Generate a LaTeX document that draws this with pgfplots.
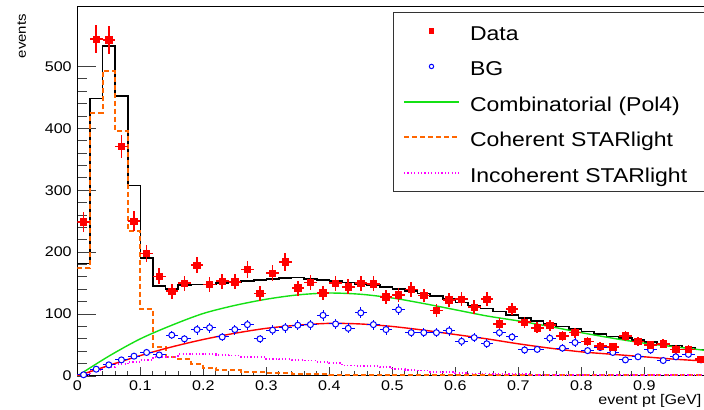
\documentclass[border=0pt]{standalone}
\usepackage{fontspec}
\setmainfont{Liberation Sans}[FakeStretch=1.15]
\usepackage{pgfplots}
\pgfplotsset{compat=1.18}
\definecolor{rgreen}{RGB}{20,225,20}
\definecolor{rorange}{RGB}{255,102,0}
\definecolor{rmagenta}{RGB}{255,0,255}
\pgfplotsset{
  lineleg/.style={legend image code/.code={\draw[##1] (0pt,0pt) -- (27.5pt,0pt); \path[draw=none, fill=none] (0pt,0pt) -- (33pt,0pt);}},
  markleg/.style={legend image code/.code={\draw[##1] plot coordinates {(13.75pt,0pt)}; \path[draw=none, fill=none] (0pt,0pt) -- (33pt,0pt);}},
}
\begin{document}
\begin{tikzpicture}
\useasboundingbox (-38.65pt,-17pt) rectangle (313.35pt,188pt);
\clip (-38.65pt,-17pt) rectangle (313.35pt,188pt);
\begin{axis}[
  at={(0,0)}, anchor=south west,
  scale only axis, width=315pt, height=184.5pt,
  xmin=0, xmax=1, ymin=0, ymax=596,
  axis line style={black, line width=0.5pt},
  tick pos=left, tick align=inside,
  major tick length=9.3pt, minor tick length=4.6pt,
  xtick style={/pgfplots/major tick length=4.5pt, /pgfplots/minor tick length=2.5pt},
  tick style={black!75, line width=0.45pt},
  xtick={0,0.1,0.2,0.3,0.4,0.5,0.6,0.7,0.8,0.9},
  ytick={0,100,200,300,400,500},
  minor x tick num=4, minor y tick num=4,
  /pgf/number format/.cd, fixed, precision=2, assume math mode=true, /pgfplots/.cd,
  ticklabel style={font=\fontsize{7}{8}\selectfont},
  xticklabel style={anchor=base, inner sep=0pt, yshift=-7.3pt},
  yticklabel style={anchor=east, inner sep=0pt, xshift=-2.6pt},
  every axis x label/.style={at={(axis description cs:1,0)}, anchor=base east, yshift=-14.5pt, xshift=0.5pt, font=\fontsize{7}{8}\selectfont},
  every axis y label/.style={at={(axis description cs:-0.088,1)}, rotate=90, anchor=east, font=\fontsize{6.5}{7.5}\selectfont},
  xlabel={event pt [GeV]},
  ylabel={events},
  legend cell align=left,
  lineleg,
  legend style={at={(0.5011,0.9864)}, anchor=north west, draw=black!80, line width=0.5pt, fill=white,
    inner xsep=5pt, inner ysep=0.6pt, outer sep=0pt, row sep=0pt,
    font=\fontsize{10}{11}\selectfont,
    nodes={inner sep=0pt, text height=9.5pt, text depth=0pt, minimum height=17.75pt, text width=112pt, align=left}},
]
% total fit histogram
\addplot[const plot, black, line width=0.8pt, forget plot] table {
0.00 182
0.02 448
0.04 533
0.06 452
0.08 308
0.10 191
0.12 145
0.14 141
0.16 147
0.18 148
0.20 148
0.22 150
0.24 151
0.26 153
0.28 155
0.30 157
0.32 158
0.34 159
0.36 157
0.38 155
0.40 153
0.42 151
0.44 149
0.46 147
0.48 144
0.50 141
0.52 137
0.54 133
0.56 129
0.58 124
0.60 119
0.62 114
0.64 109
0.66 104
0.68 99
0.70 94
0.72 89
0.74 84
0.76 80
0.78 76
0.80 72
0.82 68
0.84 64
0.86 61
0.88 58
0.90 55
0.92 52
0.94 49
0.96 46
0.98 43
1.00 43
};
% coherent
\addplot[const plot, rorange, line width=1pt, dash pattern=on 2.5pt off 1.5pt, forget plot] table {
0.00 174
0.02 425
0.04 492
0.06 396
0.08 235
0.10 108
0.12 47
0.14 31
0.16 27
0.18 20
0.20 13
0.22 10
0.24 10
0.26 7
0.28 7
0.30 5
0.32 5
0.34 4
0.36 3
0.38 3
0.40 2
0.44 2
0.50 1
0.60 1
0.70 1
1.00 1
};
% incoherent
\addplot[const plot, rmagenta, line width=0.9pt, dash pattern=on 0.6pt off 1.1pt, forget plot] table {
0.00 2
0.02 9
0.04 14
0.06 19
0.08 23
0.10 26
0.12 31
0.14 31
0.16 35
0.18 36
0.20 35
0.22 34
0.24 33
0.26 31
0.28 31
0.30 28
0.32 27
0.34 26
0.36 25
0.38 23
0.40 21
0.42 17
0.44 16
0.46 16
0.48 14
0.50 11
0.52 10
0.54 9
0.56 7
0.58 6
0.60 5
0.62 4
0.66 3
0.72 2
0.80 1.5
0.90 1
1.00 1
};
% combinatorial pol4
\addplot[smooth, rgreen, line width=0.7pt, forget plot] table {
0.00 0
0.05 32
0.10 60
0.15 82
0.20 101
0.25 114
0.30 124
0.35 131
0.40 134
0.45 132
0.50 126
0.55 117
0.60 107
0.65 97
0.70 89
0.75 80
0.80 70
0.85 61
0.90 53
0.95 47
1.00 41
};
% BG fit
\addplot[smooth, red, line width=0.7pt, forget plot] table {
0.00 0
0.05 17
0.10 33
0.15 47
0.20 59
0.25 69
0.30 77
0.35 82
0.40 85
0.45 84
0.50 80
0.55 74
0.60 67
0.65 60
0.70 52
0.75 45
0.80 39
0.85 35
0.90 31
0.95 27
1.00 24
};
% BG points
\addplot[only marks, blue, mark=*, mark size=1.5pt, mark options={fill=white, draw=blue, line width=0.5pt}, forget plot,
  error bars/.cd, x dir=both, x fixed=0.01, y dir=both, y explicit, error mark=none, error bar style={blue, line width=0.5pt}]
 table[x index=0, y index=1, y error index=2] {
0.01 2 1.5
0.03 11 3
0.05 18 4
0.07 26 5
0.09 32 5
0.11 38 6
0.13 34 5
0.15 66 7
0.17 60 7
0.19 75 8
0.21 78 8
0.23 63 7
0.25 75 8
0.27 83 8
0.29 60 7
0.31 74 8
0.33 78 8
0.35 82 8
0.37 83 8
0.39 98 9
0.41 84 8
0.43 77 8
0.45 102 9
0.47 83 8
0.49 75 8
0.51 107 9
0.53 70 7
0.55 70 7
0.57 70 7
0.59 73 8
0.61 56 7
0.63 62 7
0.65 52 7
0.67 70 7
0.69 63 7
0.71 42 6
0.73 43 6
0.75 61 7
0.77 45 6
0.79 54 7
0.81 41 6
0.83 46 6
0.85 38 6
0.87 26 5
0.89 31 5
0.91 42 6
0.93 25 5
0.95 31 5
0.97 35 5
0.99 26 5
};
% Data
\addplot[only marks, red, mark=square*, mark size=1.6pt, forget plot,
  error bars/.cd, x dir=both, x fixed=0.01, y dir=both, y explicit, error mark=none, error bar style={red, line width=0.8pt}]
 table[x index=0, y index=1, y error index=2] {
0.01 249 16
0.03 544 23
0.05 543 23
0.07 371 19
0.09 250 16
0.11 198 14
0.13 161 13
0.15 137 12
0.17 150 12
0.19 179 13
0.21 148 12
0.23 153 12
0.25 152 12
0.27 172 13
0.29 133 12
0.31 166 13
0.33 184 14
0.35 142 12
0.37 151 12
0.39 134 12
0.41 150 12
0.43 144 12
0.45 150 12
0.47 149 12
0.49 128 11
0.51 131 11
0.53 140 12
0.55 130 11
0.57 106 10
0.59 123 11
0.61 124 11
0.63 111 11
0.65 124 11
0.67 84 9
0.69 108 10
0.71 87 9
0.73 78 9
0.75 82 9
0.77 65 8
0.79 70 8
0.81 56 7
0.83 48 7
0.85 47 7
0.87 65 8
0.89 56 7
0.91 50 7
0.93 52 7
0.95 43 7
0.97 43 7
0.99 27 5
};
% legend
\addlegendimage{only marks, red, mark=square*, mark size=1.1pt, markleg}
\addlegendentry{Data}
\addlegendimage{only marks, blue, mark=*, mark size=1.1pt, mark options={fill=white, draw=blue, line width=0.5pt}, markleg}
\addlegendentry{BG}
\addlegendimage{rgreen, line width=0.7pt}
\addlegendentry{Combinatorial (Pol4)}
\addlegendimage{rorange, line width=1pt, dash pattern=on 2.5pt off 1.5pt}
\addlegendentry{Coherent STARlight}
\addlegendimage{rmagenta, line width=0.9pt, dash pattern=on 0.6pt off 1.1pt}
\addlegendentry{Incoherent STARlight}
\end{axis}
\end{tikzpicture}
\end{document}
